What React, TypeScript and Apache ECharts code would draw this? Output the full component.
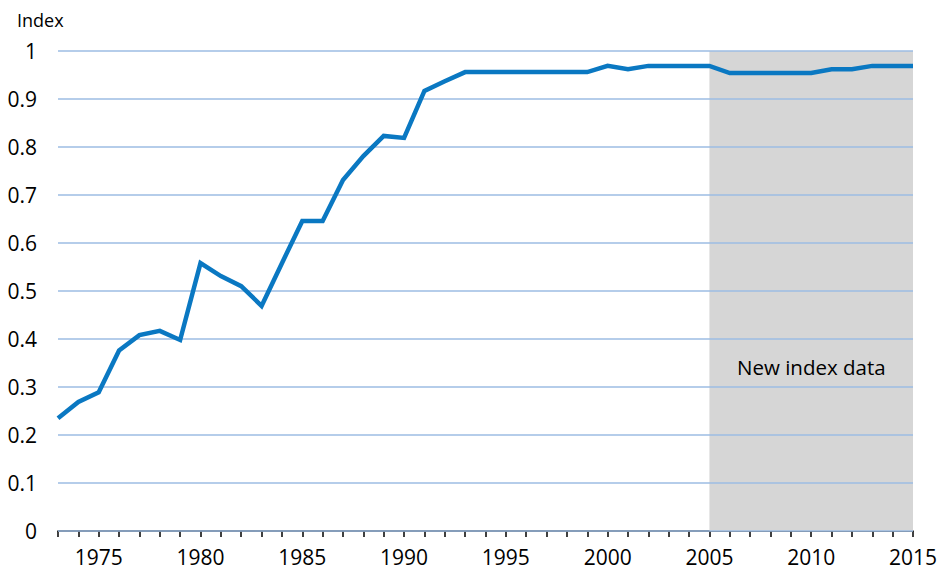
import React, { useEffect, useRef } from "react";
import * as echarts from "echarts";

const years: number[] = [
  1973, 1974, 1975, 1976, 1977, 1978, 1979, 1980, 1981, 1982, 1983, 1984, 1985, 1986,
  1987, 1988, 1989, 1990, 1991, 1992, 1993, 1994, 1995, 1996, 1997, 1998, 1999, 2000,
  2001, 2002, 2003, 2004, 2005, 2006, 2007, 2008, 2009, 2010, 2011, 2012, 2013, 2014, 2015,
];
const indexValues: number[] = [
  0.235, 0.269, 0.289, 0.376, 0.408, 0.417, 0.398, 0.558, 0.531, 0.51, 0.469, 0.558, 0.646, 0.646,
  0.731, 0.781, 0.823, 0.819, 0.917, 0.937, 0.956, 0.956, 0.956, 0.956, 0.956, 0.956, 0.956, 0.969,
  0.962, 0.969, 0.969, 0.969, 0.969, 0.954, 0.954, 0.954, 0.954, 0.954, 0.962, 0.962, 0.969, 0.969, 0.969,
];
const shadeRange: [number, number] = [2005, 2015];
const shadeLabel = "New index data";

const FONT = "Open Sans";

export default function App() {
  const ref = useRef<HTMLDivElement>(null);
  useEffect(() => {
    if (!ref.current) return;
    const chart = echarts.init(ref.current, undefined, { renderer: "svg" });
    chart.setOption({
      animation: false,
      textStyle: { fontFamily: FONT },
      grid: { left: 58, right: 25, top: 51, bottom: 38, containLabel: false, outerBoundsMode: "none" },
      graphic: [
        {
          type: "text",
          left: 17,
          top: 11,
          style: { text: "Index", fontFamily: FONT, fontSize: 18, fill: "#000" },
        },
        {
          type: "text",
          left: 737,
          top: 356,
          z: 10,
          style: { text: shadeLabel, fontFamily: FONT, fontSize: 20.5, fill: "#000" },
        },
      ],
      xAxis: {
        type: "value",
        min: 1973,
        max: 2015,
        interval: 1,
        splitLine: { show: false },
        axisLine: { show: true, lineStyle: { color: "#000", width: 1.5 } },
        axisTick: { show: true, length: 6, lineStyle: { color: "#000", width: 1.5 } },
        axisLabel: {
          show: true,
          color: "#000",
          fontSize: 21,
          fontFamily: FONT,
          margin: 15,
          formatter: (v: number) => (v % 5 === 0 ? String(v) : ""),
        },
      },
      yAxis: {
        type: "value",
        min: 0,
        max: 1,
        interval: 0.1,
        z: 3,
        axisLine: { show: false },
        axisTick: { show: false },
        axisLabel: {
          show: true,
          color: "#000",
          fontSize: 21,
          fontFamily: FONT,
          margin: 21,
          formatter: (v: number) => String(Math.round(v * 10) / 10),
        },
        splitLine: { show: true, lineStyle: { color: "#9DBDE3", width: 1.5 } },
      },
      series: [
        {
          type: "line",
          z: 1,
          data: [],
          silent: true,
          markArea: {
            silent: true,
            itemStyle: { color: "#D6D6D6" },
            data: [[{ xAxis: shadeRange[0], yAxis: 0 }, { xAxis: shadeRange[1], yAxis: 1 }]],
          },
        },
        {
          type: "line",
          z: 5,
          data: years.map((y, i) => [y, indexValues[i]]),
          showSymbol: false,
          symbol: "none",
          lineStyle: { color: "#0A78C2", width: 4.5, join: "miter" },
        },
      ],
    });
    return () => chart.dispose();
  }, []);
  return (
    <div
      ref={ref}
      style={{ position: "absolute", left: 0, top: 0, width: 938, height: 569 }}
    />
  );
}
